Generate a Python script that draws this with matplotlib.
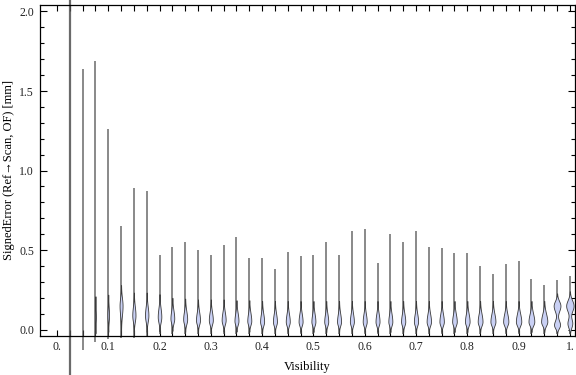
import matplotlib
matplotlib.use("Agg")
import matplotlib.pyplot as plt
import numpy as np
from matplotlib.ticker import FixedLocator, MultipleLocator, FormatStrFormatter

# visibility bins (category centres)
visibility = [0.025, 0.05, 0.075, 0.1, 0.125, 0.15, 0.175, 0.2, 0.225, 0.25,
              0.275, 0.3, 0.325, 0.35, 0.375, 0.4, 0.425, 0.45, 0.475, 0.5,
              0.525, 0.55, 0.575, 0.6, 0.625, 0.65, 0.675, 0.7, 0.725, 0.75,
              0.775, 0.8, 0.825, 0.85, 0.875, 0.9, 0.925, 0.95, 0.975, 1.0]

# range of signed error per bin [mm]
err_max = [2.40, 1.64, 1.69, 1.26, 0.65, 0.89, 0.87, 0.47, 0.52, 0.55,
           0.50, 0.47, 0.53, 0.58, 0.45, 0.45, 0.38, 0.49, 0.46, 0.47,
           0.55, 0.47, 0.62, 0.63, 0.42, 0.60, 0.55, 0.62, 0.52, 0.51,
           0.48, 0.48, 0.40, 0.35, 0.41, 0.43, 0.32, 0.28, 0.31, 0.34]
err_min = [-0.50, -0.13, -0.08, -0.06, -0.055, -0.05, -0.04, -0.03, -0.025, -0.025,
           -0.025, -0.025, -0.025, -0.025, -0.025, -0.025, -0.025, -0.025, -0.025, -0.025,
           -0.025, -0.025, -0.025, -0.025, -0.025, -0.025, -0.025, -0.025, -0.025, -0.025,
           -0.025, -0.025, -0.025, -0.025, -0.025, -0.025, -0.025, -0.025, -0.025, -0.025]

# main density lobe: mode, half width (px), spread below / above the mode
lobe_mode = [0.05, 0.06, 0.08, 0.09, 0.15, 0.09, 0.09, 0.08, 0.07, 0.065,
             0.06, 0.06, 0.06, 0.055, 0.055, 0.05, 0.05, 0.05, 0.05, 0.05,
             0.05, 0.05, 0.05, 0.05, 0.05, 0.05, 0.05, 0.05, 0.05, 0.05,
             0.05, 0.05, 0.05, 0.05, 0.05, 0.05, 0.05, 0.05, 0.03, 0.04]
lobe_width = [0.0, 0.0, 0.5, 0.8, 1.5, 1.6, 1.7, 1.8, 1.9, 2.0,
              2.0, 2.0, 2.0, 2.0, 2.0, 2.0, 2.0, 2.0, 2.0, 2.0,
              2.0, 2.0, 2.0, 2.0, 2.0, 2.0, 2.1, 2.1, 2.2, 2.2,
              2.3, 2.3, 2.4, 2.5, 2.6, 2.7, 2.9, 3.1, 3.0, 2.4]
lobe_lo = [0.03, 0.03, 0.04, 0.04, 0.06, 0.04, 0.04, 0.035, 0.03, 0.03,
           0.028, 0.028, 0.028, 0.026, 0.026, 0.025, 0.025, 0.025, 0.025, 0.025,
           0.025, 0.025, 0.025, 0.025, 0.025, 0.025, 0.025, 0.025, 0.025, 0.025,
           0.025, 0.025, 0.025, 0.025, 0.025, 0.025, 0.025, 0.025, 0.022, 0.028]
lobe_hi = [0.06, 0.06, 0.05, 0.05, 0.05, 0.055, 0.055, 0.055, 0.05, 0.05,
           0.05, 0.05, 0.05, 0.05, 0.05, 0.05, 0.05, 0.05, 0.05, 0.05,
           0.05, 0.05, 0.05, 0.05, 0.05, 0.05, 0.05, 0.05, 0.05, 0.05,
           0.05, 0.05, 0.05, 0.05, 0.05, 0.05, 0.05, 0.05, 0.028, 0.028]

# second lobe for the highest-visibility bins
lobe2_vis = [0.975, 1.0]
lobe2_mode = [0.15, 0.15]
lobe2_width = [3.4, 3.7]
lobe2_lo = [0.035, 0.035]
lobe2_hi = [0.03, 0.035]

x_major = [0.0, 0.1, 0.2, 0.3, 0.4, 0.5, 0.6, 0.7, 0.8, 0.9, 1.0]
x_labels = ["0.", "0.1", "0.2", "0.3", "0.4", "0.5", "0.6", "0.7", "0.8", "0.9", "1."]

W, H = 576, 375
fig = plt.figure(figsize=(W / 100, H / 100), dpi=100)
ax = fig.add_axes([39.5 / W, 1 - 335.5 / H, 535.5 / W, 331 / H])
ax.set_xlim(-0.034, 1.010)
ax.set_ylim(-0.037, 2.044)
px = (1.010 + 0.034) / 535.5  # data units per pixel in x

# thin tails spanning full range
for i, (v, lo, hi) in enumerate(zip(visibility, err_min, err_max)):
    ax.plot([v, v], [lo, hi], color="#505050", lw=1.6 if i == 0 else 1.1,
            alpha=0.85, solid_capstyle="butt", clip_on=False, zorder=2)

# density bodies
stats, pos, widths = [], [], []
for i, v in enumerate(visibility):
    if lobe_width[i] <= 0:
        continue
    m, lo, hi = lobe_mode[i], lobe_lo[i], lobe_hi[i]
    ytop = m + 2.6 * hi
    ybot = max(m - 2.6 * lo, err_min[i])
    if v in lobe2_vis:
        j = lobe2_vis.index(v)
        ytop = lobe2_mode[j] + 2.6 * lobe2_hi[j]
    c = np.linspace(ybot, ytop, 300)
    d = lobe_width[i] * np.exp(-0.5 * ((c - m) / np.where(c < m, lo, hi)) ** 2)
    if v in lobe2_vis:
        j = lobe2_vis.index(v)
        m2 = lobe2_mode[j]
        s2 = np.where(c < m2, lobe2_lo[j], lobe2_hi[j])
        d = d + lobe2_width[j] * np.exp(-0.5 * ((c - m2) / s2) ** 2)
    stats.append(dict(coords=c, vals=d, mean=m, median=m, min=ybot, max=ytop))
    pos.append(v)
    widths.append(2 * d.max() * px)

parts = ax.violin(stats, positions=pos, widths=widths, showextrema=False)
for b in parts["bodies"]:
    b.set_facecolor("#c9d0f4")
    b.set_edgecolor("#3a3a3a")
    b.set_linewidth(0.6)
    b.set_alpha(1)
    b.set_zorder(3)

# frame and ticks
for s in ax.spines.values():
    s.set_linewidth(0.9)
ax.xaxis.set_major_locator(FixedLocator(x_major))
ax.set_xticklabels(x_labels)
ax.xaxis.set_minor_locator(FixedLocator([0.0] + visibility))
ax.yaxis.set_major_locator(MultipleLocator(0.5))
ax.yaxis.set_minor_locator(MultipleLocator(0.1))
ax.yaxis.set_major_formatter(FormatStrFormatter("%.1f"))
ax.tick_params(axis="both", which="both", direction="in", top=True, right=True,
               width=0.8, labelsize=8.5, labelcolor="#222222", pad=4)
ax.tick_params(axis="x", which="both", length=4)
ax.tick_params(axis="y", which="major", length=5)
ax.tick_params(axis="y", which="minor", length=3)
for lab in ax.get_xticklabels() + ax.get_yticklabels():
    lab.set_fontfamily("Liberation Serif")

ax.set_xlabel("Visibility", fontfamily="Liberation Serif", fontsize=9, labelpad=6)
ax.set_ylabel("SignedError (Ref\u2192Scan, OF) [mm]",
              fontfamily=["Liberation Serif", "DejaVu Sans"], fontsize=9, labelpad=3)

fig.savefig("out.png", dpi=100)
